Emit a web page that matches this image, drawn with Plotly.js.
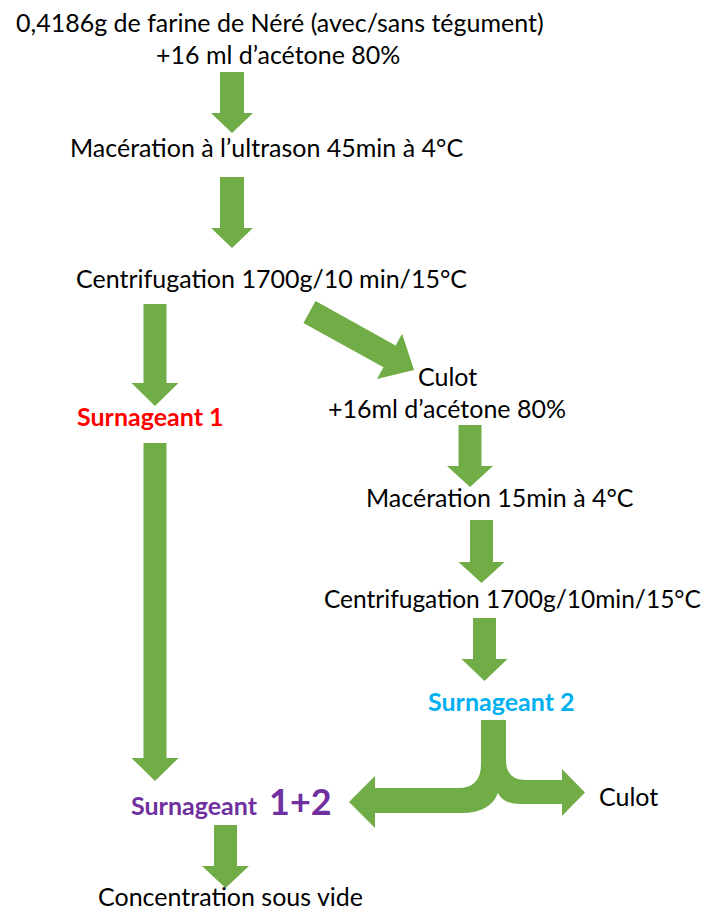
<!DOCTYPE html>
<html>
<head>
<meta charset="utf-8">
<script src="https://cdn.plot.ly/plotly-3.0.1.min.js"></script>
<style>html,body{margin:0;padding:0;background:#fff;}#chart{width:707px;height:912px;}</style>
</head>
<body>
<div id="chart"></div>
<script>
// ---- content (text of the flowchart steps) ----
var mainSteps = [
  "0,4186g de farine de Néré (avec/sans tégument)",
  "+16 ml d’acétone 80%",
  "Macération à l’ultrason 45min à 4°C",
  "Centrifugation 1700g/10 min/15°C"
];
var branchSteps = [
  "Culot",
  "+16ml d’acétone 80%",
  "Macération 15min à 4°C",
  "Centrifugation 1700g/10min/15°C"
];
var supernatants = ["Surnageant 1", "Surnageant 2", "Surnageant", "1+2"];
var endSteps = ["Culot", "Concentration sous vide"];

// ---- layout ----
var FONT = "Lato, 'Open Sans', sans-serif";
var GREEN = "#70AD47";
var W = 707, H = 912;

function arrowPath(x1, y1, x2, y2, sw, hw, hl) {
  var dx = x2 - x1, dy = y2 - y1, L = Math.sqrt(dx*dx + dy*dy);
  var ux = dx / L, uy = dy / L, px = -uy, py = ux;
  var bx = x2 - ux*hl, by = y2 - uy*hl;
  var pts = [
    [x1 + px*sw/2, y1 + py*sw/2],
    [bx + px*sw/2, by + py*sw/2],
    [bx + px*hw/2, by + py*hw/2],
    [x2, y2],
    [bx - px*hw/2, by - py*hw/2],
    [bx - px*sw/2, by - py*sw/2],
    [x1 - px*sw/2, y1 - py*sw/2]
  ];
  return "M" + pts.map(function(p){return p[0].toFixed(1) + "," + p[1].toFixed(1);}).join(" L") + " Z";
}

var arrows = [
  [232, 72, 232, 133, 24, 42, 20],
  [232, 177, 232, 248, 24, 42, 20],
  [155, 304, 155, 406, 23, 47, 23],
  [155, 443, 155, 781, 23, 47, 23],
  [309.5, 312, 414, 370, 25, 52, 28],
  [470, 425, 470, 487, 23, 46, 21],
  [481.5, 520, 481.5, 583, 23, 46, 21],
  [484.5, 618, 484.5, 681, 23, 46, 22],
  [225.5, 825, 225.5, 888, 23, 47, 22]
];

var shapes = arrows.map(function(a){
  return {type: "path", xref: "x", yref: "y", path: arrowPath.apply(null, a),
          fillcolor: GREEN, line: {width: 0}, layer: "below"};
});

// split arrow (Surnageant 2 -> 1+2 and Culot)
var splitPath = "M481,720 L481,764 Q481,788 458,788 L375,788 L375,776 L349,802 L375,828 L375,813 " +
  "L462,813 Q490,813 498,793 Q503,804 520,804 L562,804 L562,816 L585,792.5 L562,769 L562,780 " +
  "L526,780 Q506,780 506,760 L506,720 Z";
shapes.push({type: "path", xref: "x", yref: "y", path: splitPath, fillcolor: GREEN, line: {width: 0}, layer: "below"});

function txt(t, x, y, size, color, bold) {
  return {x: x, y: y, xref: "x", yref: "y", text: bold ? "<b>" + t + "</b>" : t,
          showarrow: false, xanchor: "center", yanchor: "middle",
          font: {family: FONT, size: size, color: color || "#000"}};
}

var annotations = [
  txt(mainSteps[0], 280, 22, 25),
  txt(mainSteps[1], 278, 54, 25),
  txt(mainSteps[2], 266, 147, 25),
  txt(mainSteps[3], 271, 278, 25),
  txt(branchSteps[0], 447, 376, 25),
  txt(branchSteps[1], 447, 408, 25),
  txt(branchSteps[2], 500, 497, 25),
  txt(branchSteps[3], 512, 598, 24.5),
  txt(supernatants[0], 150, 416, 25, "#FF0000", true),
  txt(supernatants[1], 501, 701, 25, "#00B0F0", true),
  txt(supernatants[2], 194, 805, 25, "#7030A0", true),
  txt(supernatants[3], 300, 801, 36, "#7030A0", true),
  txt(endSteps[0], 628, 796, 25),
  txt(endSteps[1], 230, 896, 25)
];

var layout = {
  width: W, height: H,
  margin: {l: 0, r: 0, t: 0, b: 0},
  paper_bgcolor: "#fff", plot_bgcolor: "#fff",
  showlegend: false,
  xaxis: {range: [0, W], visible: false, fixedrange: true},
  yaxis: {range: [H, 0], visible: false, fixedrange: true},
  shapes: shapes,
  annotations: annotations
};

Plotly.newPlot("chart", [{x: [], y: [], type: "scatter", hoverinfo: "skip"}], layout, {staticPlot: true, displayModeBar: false});
</script>
</body>
</html>
